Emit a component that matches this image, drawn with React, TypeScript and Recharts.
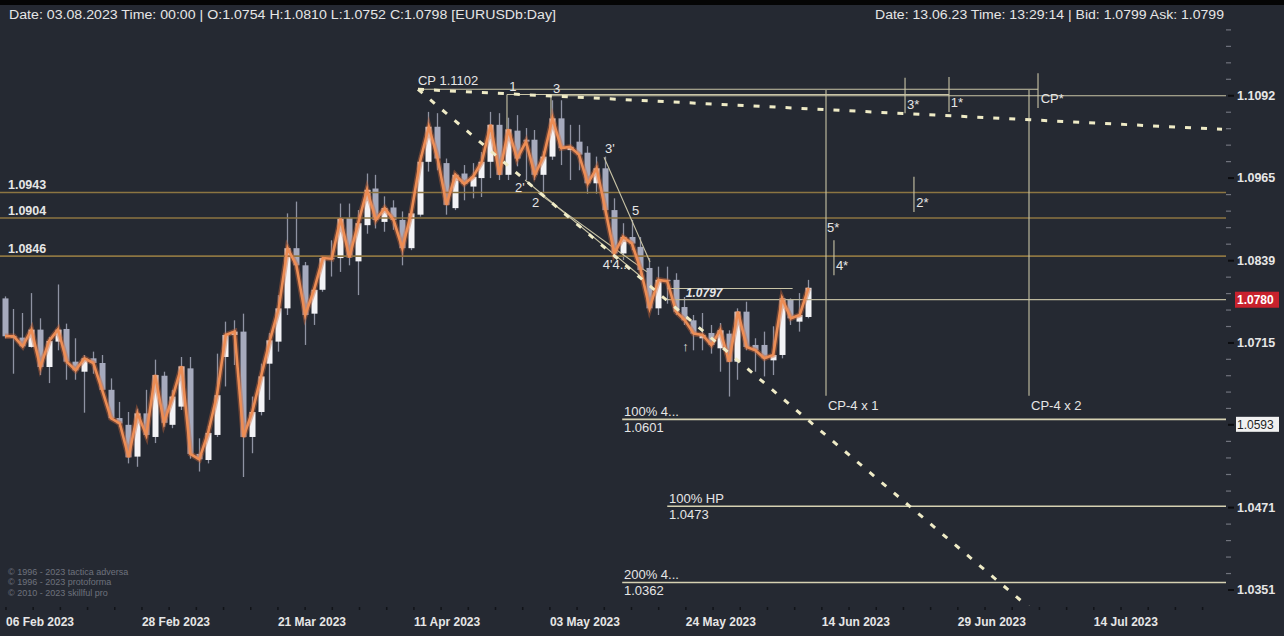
import React from 'react';
import { ComposedChart, Bar, Line, XAxis, YAxis, ReferenceLine, ReferenceDot } from 'recharts';

const W = 1284;
const H = 636;
const BG = '#252932';
const FONT = "'Liberation Sans', Arial, sans-serif";
const TEXT = '#e6e6e6';

// EURUSD daily candles, oldest first
const opens = [
  1.0782, 1.0723, 1.0723, 1.0709, 1.0735, 1.0679, 1.0717, 1.0736, 1.0687, 1.0672,
  1.0692, 1.0685, 1.0645, 1.0603, 1.0593, 1.0546, 1.0610, 1.0575, 1.0666, 1.0593,
  1.0620, 1.0677, 1.0550, 1.0541, 1.0578, 1.0694, 1.0727, 1.0732, 1.0575, 1.0612,
  1.0684, 1.0717, 1.0767, 1.0858, 1.0832, 1.0759, 1.0795, 1.0843, 1.0843, 1.0904,
  1.0838, 1.0893, 1.0949, 1.0898, 1.0920, 1.0901, 1.0858, 1.0909, 1.0990, 1.1044,
  1.0988, 1.0919, 1.0972, 1.0952, 1.0965, 1.0990, 1.1047, 1.0970, 1.1038, 1.1024,
  1.1024, 1.0970, 1.0998, 1.1057, 1.1008, 1.1021, 1.1004, 1.0957, 1.0980, 1.0916,
  1.0850, 1.0875, 1.0860, 1.0828, 1.0767, 1.0810, 1.0810, 1.0769, 1.0749, 1.0722,
  1.0730, 1.0707, 1.0729, 1.0687, 1.0762, 1.0712, 1.0712, 1.0689, 1.0697, 1.0780,
  1.0747, 1.0754,
];
const highs = [
  1.0785, 1.0766, 1.0760, 1.0790, 1.0752, 1.0724, 1.0803, 1.0744, 1.0722, 1.0697,
  1.0702, 1.0697, 1.0662, 1.0627, 1.0612, 1.0617, 1.0645, 1.0690, 1.0672, 1.0645,
  1.0694, 1.0694, 1.0573, 1.0591, 1.0699, 1.0747, 1.0749, 1.0759, 1.0635, 1.0684,
  1.0730, 1.0787, 1.0911, 1.0929, 1.0837, 1.0797, 1.0845, 1.0870, 1.0926, 1.0926,
  1.0916, 1.0972, 1.0970, 1.0937, 1.0931, 1.0914, 1.0916, 1.1000, 1.1067, 1.1065,
  1.0995, 1.0972, 1.0985, 1.0988, 1.1005, 1.1067, 1.1065, 1.1058, 1.1062, 1.1042,
  1.1039, 1.1006, 1.1085, 1.1085, 1.1047, 1.1047, 1.1014, 1.0998, 1.0998, 1.0934,
  1.0896, 1.0901, 1.0875, 1.0843, 1.0830, 1.0830, 1.0820, 1.0784, 1.0757, 1.0760,
  1.0742, 1.0745, 1.0734, 1.0767, 1.0777, 1.0722, 1.0732, 1.0740, 1.0785, 1.0782,
  1.0790, 1.0810,
];
const lows = [
  1.0722, 1.0669, 1.0708, 1.0708, 1.0667, 1.0655, 1.0704, 1.0660, 1.0660, 1.0611,
  1.0669, 1.0644, 1.0600, 1.0590, 1.0536, 1.0531, 1.0573, 1.0566, 1.0590, 1.0588,
  1.0615, 1.0543, 1.0524, 1.0536, 1.0575, 1.0650, 1.0682, 1.0516, 1.0551, 1.0607,
  1.0630, 1.0702, 1.0757, 1.0825, 1.0712, 1.0742, 1.0792, 1.0815, 1.0822, 1.0832,
  1.0787, 1.0880, 1.0888, 1.0883, 1.0886, 1.0832, 1.0855, 1.0906, 1.0975, 1.0977,
  1.0909, 1.0916, 1.0931, 1.0934, 1.0936, 1.0965, 1.0962, 1.0962, 1.0983, 1.0962,
  1.0962, 1.0941, 1.0993, 1.0985, 1.0962, 1.0977, 1.0941, 1.0941, 1.0908, 1.0843,
  1.0840, 1.0855, 1.0817, 1.0764, 1.0757, 1.0774, 1.0757, 1.0742, 1.0704, 1.0704,
  1.0699, 1.0672, 1.0635, 1.0660, 1.0704, 1.0672, 1.0665, 1.0667, 1.0692, 1.0742,
  1.0732, 1.0752,
];
const closes = [
  1.0725, 1.0725, 1.0710, 1.0735, 1.0679, 1.0718, 1.0735, 1.0687, 1.0674, 1.0692,
  1.0685, 1.0645, 1.0603, 1.0595, 1.0545, 1.0610, 1.0578, 1.0667, 1.0596, 1.0635,
  1.0680, 1.0550, 1.0542, 1.0581, 1.0637, 1.0727, 1.0732, 1.0575, 1.0612, 1.0665,
  1.0719, 1.0767, 1.0858, 1.0832, 1.0757, 1.0795, 1.0843, 1.0842, 1.0903, 1.0844,
  1.0896, 1.0947, 1.0901, 1.0919, 1.0901, 1.0858, 1.0911, 1.0990, 1.1044, 1.0995,
  1.0924, 1.0970, 1.0956, 1.0967, 1.0990, 1.1047, 1.0970, 1.1040, 1.0995, 1.1021,
  1.0970, 1.0998, 1.1057, 1.1011, 1.1013, 1.1001, 1.0957, 1.0980, 1.0916, 1.0850,
  1.0875, 1.0865, 1.0825, 1.0767, 1.0810, 1.0808, 1.0762, 1.0749, 1.0729, 1.0727,
  1.0712, 1.0734, 1.0687, 1.0762, 1.0709, 1.0704, 1.0692, 1.0697, 1.0782, 1.0752,
  1.0757, 1.0798,
];

// x axis: bar position of each date label
const dateTicks = [0.11, 15.51, 30.91, 46.31, 61.71, 77.11, 92.51, 107.91, 123.31];
const dateLabels = [
  '06 Feb 2023', '28 Feb 2023', '21 Mar 2023', '11 Apr 2023', '03 May 2023',
  '24 May 2023', '14 Jun 2023', '29 Jun 2023', '14 Jul 2023',
];

// right price scale
const priceGrid = [1.1092, 1.0965, 1.0839, 1.0715, 1.0593, 1.0471, 1.0351];
const lastPrice = 1.078;
const markPrice = 1.0593;

// gold support / resistance levels
const goldLevels = [1.0943, 1.0904, 1.0846];

// target levels
const targetLevels = [1.0601, 1.0473, 1.0362];
const targetNames = ['100%  4...', '100% HP', '200%  4...'];
const targetStarts = [69.9, 75.0, 69.9];

// construction lines: [x1, price1, x2, price2]
const thinLines = [
  [46.77, 1.1102, 116.99, 1.1102],
  [56.85, 1.1094, 106.91, 1.1094],
  [61.83, 1.1092, 138.28, 1.1092],
  [56.85, 1.1094, 56.85, 1.1039],
  [61.83, 1.1092, 61.83, 1.1057],
  [92.98, 1.1101, 92.98, 1.0636],
  [115.97, 1.1101, 115.97, 1.0636],
  [101.93, 1.112, 101.93, 1.1065],
  [106.91, 1.1121, 106.91, 1.1067],
  [116.99, 1.1127, 116.99, 1.1073],
  [102.94, 1.0967, 102.94, 1.0913],
  [93.88, 1.087, 93.88, 1.0817],
  [58.9, 1.0962, 72.1, 1.0814],
  [60.4, 1.0942, 72.7, 1.0822],
  [67.84, 1.0997, 73.05, 1.0837],
  [75.0, 1.0797, 89.2, 1.0797],
];
const lastPriceFrom = 75.0;

const dottedLines = [
  [46.77, 1.1102, 137.83, 1.104],
  [46.77, 1.1102, 116.6, 1.0319],
];

// text marks: [text, x, price]
const notes: [string, number, number][] = [
  ['CP  1.1102', 46.77, 1.1115],
  ['1', 57.1, 1.1106],
  ['3', 62.06, 1.1104],
  ["2'", 57.76, 1.0951],
  ['2', 59.68, 1.0928],
  ["3'", 67.95, 1.101],
  ['5', 71.0, 1.0915],
  ["4'4...", 67.7, 1.0834],
  ['↑', 76.7, 1.071],
  ['3*', 102.15, 1.1079],
  ['1*', 107.1, 1.1081],
  ['CP*', 117.3, 1.1088],
  ['2*', 103.2, 1.0928],
  ['4*', 94.1, 1.0832],
  ['5*', 93.1, 1.089],
  ['CP-4 x 1', 93.2, 1.0622],
  ['CP-4 x 2', 116.2, 1.0622],
];
const italicNote: [string, number, number] = ['1.0797', 77.1, 1.079];

const candles = opens.map((o, i) => ({
  i,
  open: o,
  high: highs[i],
  low: lows[i],
  close: closes[i],
  range: [lows[i], highs[i]],
}));

// minor tick marks between labelled ticks
const yMinor: number[] = [];
priceGrid.forEach((a, k) => {
  const b = priceGrid[k + 1] ?? a * (priceGrid[k] / priceGrid[k - 1]);
  const prev = k === 0 ? a * (a / priceGrid[1]) : null;
  for (let s = 1; s < 5; s++) {
    yMinor.push(a * Math.pow(b / a, s / 5));
    if (prev) yMinor.push(a * Math.pow(prev / a, s / 5));
  }
});
const yTicks = [...priceGrid, lastPrice, ...yMinor.filter((v) => v > 1.0329 && v < 1.1203)];

const xMinor: number[] = [];
dateTicks.forEach((a, k) => {
  const b = dateTicks[k + 1] ?? a + (a - dateTicks[k - 1]);
  for (let s = 1; s < 5; s++) xMinor.push(a + ((b - a) * s) / 5);
});
const xTicks = [...dateTicks, ...xMinor.filter((v) => v < 138)];

function Candle(props: any) {
  const { x, y, width, height, payload } = props;
  if (x == null || y == null || !payload) return null;
  const top = Math.min(y, y + height);
  const bot = Math.max(y, y + height);
  const lh = Math.log(payload.high);
  const ll = Math.log(payload.low);
  const toY = (v: number) => top + ((bot - top) * (lh - Math.log(v))) / (lh - ll || 1);
  const yo = toY(payload.open);
  const yc = toY(payload.close);
  const cx = Math.round(x + width / 2) + 0.5;
  const bull = payload.close >= payload.open;
  return (
    <g>
      <line x1={cx} x2={cx} y1={top} y2={bot} stroke="#8f93a3" strokeWidth={1.3} />
      <rect
        x={cx - 3}
        y={Math.min(yo, yc)}
        width={6}
        height={Math.max(1.2, Math.abs(yo - yc))}
        fill={bull ? '#f3f3f6' : '#a6aabd'}
      />
    </g>
  );
}

function DateTick(props: any) {
  const { x, y, payload } = props;
  const k = dateTicks.indexOf(payload.value);
  return (
    <g>
      <line x1={x} x2={x} y1={y + 1} y2={y + 4} stroke="#111318" strokeWidth={1.5} />
      {k >= 0 && (
        <text x={x} y={y + 20} fill={TEXT} fontSize={12} fontWeight={700} fontFamily={FONT}>
          {dateLabels[k]}
        </text>
      )}
    </g>
  );
}

function PriceTick(props: any) {
  const { x, y, payload } = props;
  const v = payload.value;
  if (v === lastPrice) {
    return (
      <g>
        <rect x={x + 9} y={y - 8} width={44} height={16} fill="#c8222d" />
        <text x={x + 11} y={y} dominantBaseline="central" fill="#ffffff" fontSize={12} fontWeight={700} fontFamily={FONT}>
          {v.toFixed(4)}
        </text>
      </g>
    );
  }
  if (v === markPrice) {
    return (
      <g>
        <line x1={x + 2} x2={x + 8} y1={y} y2={y} stroke="#0c0d10" strokeWidth={2} />
        <rect x={x + 10} y={y - 8} width={43} height={15} fill="#f1f1f1" />
        <text x={x + 11} y={y} dominantBaseline="central" fill="#1d1f24" fontSize={12} fontWeight={400} fontFamily={FONT}>
          {v.toFixed(4)}
        </text>
      </g>
    );
  }
  if (priceGrid.includes(v)) {
    return (
      <g>
        <line x1={x + 2} x2={x + 8} y1={y} y2={y} stroke="#0c0d10" strokeWidth={2} />
        <text x={x + 11} y={y} dominantBaseline="central" fill={TEXT} fontSize={12.5} fontWeight={700} fontFamily={FONT}>
          {v.toFixed(4)}
        </text>
      </g>
    );
  }
  return <line x1={x} x2={x + 5} y1={y} y2={y} stroke="#70737d" strokeWidth={1.2} />;
}

function LeftTick(props: any) {
  const { y } = props;
  return <line x1={0} x2={4} y1={y} y2={y} stroke="#5f626c" strokeWidth={1.2} />;
}

const noteText = (text: string, opts: any = {}) => (p: any) => (
  <text
    x={p.cx}
    y={p.cy}
    dy={opts.dy ?? 0}
    dominantBaseline="central"
    fill={opts.fill ?? TEXT}
    fontSize={opts.size ?? 13}
    fontStyle={opts.italic ? 'italic' : 'normal'}
    fontWeight={opts.weight ?? 400}
    fontFamily={FONT}
  >
    {text}
  </text>
);

export default function App() {
  return (
    <div style={{ position: 'fixed', left: 0, top: 0, width: W, height: H, background: BG, overflow: 'hidden' }}>
      <ComposedChart width={W} height={H} data={candles} margin={{ top: 24, right: 0, bottom: 0, left: 0 }}>
        <XAxis
          dataKey="i"
          type="number"
          domain={[-0.566, 138.28]}
          allowDataOverflow
          ticks={xTicks}
          interval={0}
          tick={<DateTick />}
          tickLine={false}
          axisLine={false}
          tickSize={0}
          tickMargin={0}
          height={30}
        />
        <YAxis
          orientation="right"
          scale="log"
          domain={[1.03279, 1.12039]}
          allowDataOverflow
          ticks={yTicks}
          interval={0}
          tick={<PriceTick />}
          tickLine={false}
          axisLine={false}
          tickSize={0}
          tickMargin={0}
          width={58}
        />
        <YAxis
          yAxisId="l"
          orientation="left"
          scale="log"
          domain={[1.03279, 1.12039]}
          allowDataOverflow
          ticks={yTicks}
          interval={0}
          mirror
          tick={<LeftTick />}
          tickLine={false}
          axisLine={false}
          width={0}
        />

        {goldLevels.map((v) => (
          <ReferenceLine key={'g' + v} y={v} stroke="#8c7542" strokeWidth={1.6} />
        ))}
        {targetLevels.map((v, k) => (
          <ReferenceLine
            key={'t' + v}
            segment={[{ x: targetStarts[k], y: v }, { x: 138.28, y: v }]}
            stroke="#d6d1b2"
            strokeWidth={1.6}
          />
        ))}
        <ReferenceLine
          segment={[{ x: lastPriceFrom, y: lastPrice }, { x: 138.28, y: lastPrice }]}
          stroke="#bdb89d"
          strokeWidth={1.3}
        />
        {thinLines.map((s, k) => (
          <ReferenceLine
            key={'s' + k}
            segment={[{ x: s[0], y: s[1] }, { x: s[2], y: s[3] }]}
            stroke="#c9c4a6"
            strokeWidth={1.1}
            ifOverflow="hidden"
          />
        ))}

        <Bar dataKey="range" barSize={6} shape={<Candle />} isAnimationActive={false} />
        <Line dataKey="close" type="linear" stroke="#c8673a" strokeOpacity={0.45} strokeWidth={5.5} dot={false} activeDot={false} isAnimationActive={false} />
        <Line dataKey="close" type="linear" stroke="#ec8d55" strokeWidth={2.6} dot={false} activeDot={false} isAnimationActive={false} />

        {dottedLines.map((s, k) => (
          <ReferenceLine
            key={'d' + k}
            segment={[{ x: s[0], y: s[1] }, { x: s[2], y: s[3] }]}
            stroke="#efebc6"
            strokeWidth={3}
            strokeDasharray="6 10"
            ifOverflow="hidden"
          />
        ))}

        {goldLevels.map((v) => (
          <ReferenceDot key={'gl' + v} x={0.34} y={v} r={0} ifOverflow="visible" shape={noteText(v.toFixed(4), { dy: -7, weight: 700, size: 12.5 })} />
        ))}
        {targetLevels.map((v, k) => (
          <ReferenceDot key={'tn' + v} x={targetStarts[k] + 0.2} y={v} r={0} ifOverflow="visible" shape={noteText(targetNames[k], { dy: -8 })} />
        ))}
        {targetLevels.map((v, k) => (
          <ReferenceDot key={'tv' + v} x={targetStarts[k] + 0.2} y={v} r={0} ifOverflow="visible" shape={noteText(v.toFixed(4), { dy: 8 })} />
        ))}
        {notes.map(([t, x, p], k) => (
          <ReferenceDot key={'n' + k} x={x} y={p} r={0} ifOverflow="visible" shape={noteText(t)} />
        ))}
        <ReferenceDot
          x={italicNote[1]}
          y={italicNote[2]}
          r={0}
          ifOverflow="visible"
          shape={noteText(italicNote[0], { italic: true, weight: 700, size: 12 })}
        />
      </ComposedChart>

      <svg width={W} height={H} style={{ position: 'absolute', left: 0, top: 0, pointerEvents: 'none' }}>
        <rect x={0} y={0} width={W} height={5} fill="#050505" />
        <text x={9} y={15} dominantBaseline="central" fill={TEXT} fontSize={12.5} fontFamily={FONT} textLength={547} lengthAdjust="spacingAndGlyphs">
          Date: 03.08.2023 Time: 00:00 | O:1.0754 H:1.0810 L:1.0752 C:1.0798 [EURUSDb:Day]
        </text>
        <text x={875} y={15} dominantBaseline="central" fill={TEXT} fontSize={12.5} fontFamily={FONT} textLength={349} lengthAdjust="spacingAndGlyphs">
          Date: 13.06.23 Time: 13:29:14 | Bid: 1.0799 Ask: 1.0799
        </text>
        <g fill="#6e727d" fontSize={9} fontFamily={FONT}>
          <text x={8} y={572} dominantBaseline="central">© 1996 - 2023 tactica adversa</text>
          <text x={8} y={582} dominantBaseline="central">© 1996 - 2023 protoforma</text>
          <text x={8} y={593} dominantBaseline="central">© 2010 - 2023 skillful pro</text>
        </g>
      </svg>
    </div>
  );
}
